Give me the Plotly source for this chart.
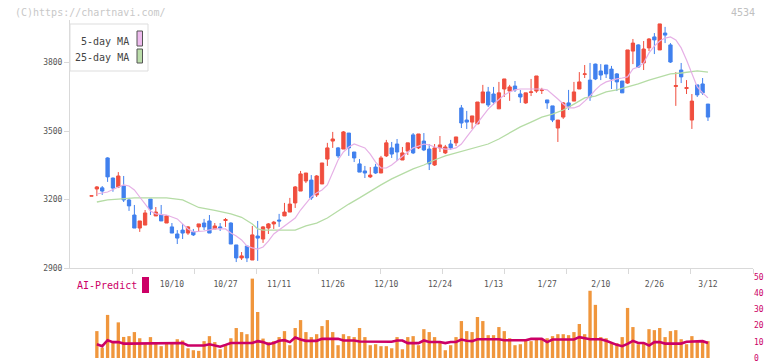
import plotly.graph_objects as go

# ---------------- data ----------------
tick_labels = ["10/10", "10/27", "11/11", "11/26", "12/10", "12/24",
               "1/13", "1/27", "2/10", "2/26", "3/12"]
tick_label_idx = [15, 25, 35, 45, 55, 65, 75, 85, 95, 105, 115]

open_ = [3215, 3246, 3251, 3382, 3294, 3255, 3259, 3198, 3132, 3075,
         3088, 3202, 3128, 3132, 3097, 3080, 3049, 3066, 3053, 3058,
         3080, 3097, 3106, 3071, 3080, 3108, 3097, 3001, 2944, 2996,
         2935, 3040, 3027, 3075, 3093, 3110, 3128, 3145, 3185, 3237,
         3281, 3285, 3220, 3268, 3377, 3456, 3426, 3421, 3491, 3408,
         3356, 3325, 3299, 3342, 3316, 3391, 3426, 3443, 3373, 3412,
         3483, 3426, 3456, 3421, 3351, 3426, 3404, 3443, 3448, 3601,
         3548, 3539, 3531, 3623, 3671, 3662, 3597, 3684, 3675, 3697,
         3662, 3623, 3669, 3675, 3677, 3636, 3610, 3513, 3561, 3623,
         3631, 3684, 3748, 3723, 3793, 3763, 3789, 3771, 3750, 3719,
         3710, 3850, 3877, 3798, 3864, 3912, 3855, 3929, 3877, 3695,
         3767, 3686, 3548, 3702, 3706, 3618]
high = [3216, 3259, 3259, 3385, 3296, 3320, 3303, 3207, 3176, 3106,
        3154, 3202, 3167, 3176, 3132, 3097, 3066, 3093, 3084, 3071,
        3093, 3115, 3132, 3097, 3097, 3119, 3100, 3001, 2970, 2996,
        3084, 3106, 3084, 3097, 3106, 3137, 3185, 3207, 3259, 3325,
        3316, 3307, 3307, 3360, 3448, 3496, 3430, 3500, 3491, 3408,
        3377, 3347, 3342, 3356, 3391, 3461, 3452, 3465, 3430, 3448,
        3491, 3487, 3491, 3443, 3443, 3478, 3439, 3461, 3474, 3614,
        3588, 3566, 3627, 3702, 3693, 3693, 3715, 3728, 3702, 3719,
        3680, 3667, 3728, 3741, 3689, 3636, 3610, 3548, 3627, 3680,
        3715, 3758, 3789, 3798, 3795, 3793, 3789, 3785, 3754, 3719,
        3855, 3903, 3880, 3894, 3907, 3929, 3969, 3956, 3885, 3758,
        3798, 3723, 3662, 3702, 3732, 3618]
low = [3215, 3215, 3220, 3277, 3234, 3250, 3189, 3150, 3075, 3058,
       3088, 3132, 3128, 3106, 3097, 3053, 3005, 3027, 3045, 3040,
       3058, 3066, 3053, 3071, 3062, 3080, 3005, 2926, 2935, 2926,
       2935, 2931, 3010, 3049, 3071, 3080, 3128, 3145, 3163, 3237,
       3272, 3198, 3211, 3268, 3347, 3426, 3382, 3421, 3391, 3364,
       3320, 3294, 3294, 3312, 3316, 3386, 3382, 3369, 3373, 3395,
       3399, 3421, 3412, 3329, 3347, 3408, 3399, 3417, 3434, 3513,
       3509, 3509, 3531, 3623, 3605, 3614, 3597, 3649, 3632, 3671,
       3623, 3619, 3653, 3667, 3662, 3597, 3539, 3452, 3553, 3592,
       3631, 3684, 3732, 3632, 3723, 3723, 3732, 3684, 3675, 3667,
       3706, 3793, 3776, 3767, 3850, 3837, 3855, 3885, 3798, 3610,
       3710, 3662, 3509, 3649, 3658, 3544]
close = [3216, 3255, 3237, 3299, 3250, 3303, 3198, 3172, 3075, 3106,
         3141, 3158, 3145, 3106, 3128, 3053, 3031, 3053, 3080, 3045,
         3093, 3080, 3053, 3084, 3075, 3112, 3005, 2944, 2953, 2944,
         3045, 3031, 3080, 3093, 3101, 3106, 3145, 3180, 3255, 3312,
         3316, 3207, 3303, 3360, 3426, 3465, 3391, 3496, 3426, 3382,
         3320, 3316, 3307, 3316, 3382, 3448, 3399, 3408, 3404, 3448,
         3404, 3487, 3417, 3356, 3426, 3439, 3430, 3426, 3474, 3535,
         3539, 3566, 3627, 3671, 3614, 3627, 3667, 3728, 3693, 3680,
         3649, 3667, 3671, 3741, 3680, 3623, 3548, 3548, 3623, 3605,
         3671, 3715, 3750, 3649, 3728, 3745, 3750, 3728, 3715, 3667,
         3855, 3885, 3780, 3859, 3903, 3899, 3969, 3920, 3802, 3699,
         3737, 3690, 3631, 3658, 3667, 3561]

ma5_idx = [1, 3, 5, 6, 7, 8, 9, 10, 11, 12, 14, 16, 17, 18, 19, 21, 23, 25,
           26, 27, 28, 29, 30, 31, 32, 33, 34, 35, 36, 37, 38, 39, 40, 41,
           42, 43, 44, 45, 46, 47, 48, 49, 50, 51, 52, 53, 54, 55, 56, 57,
           58, 59, 60, 61, 62, 63, 64, 66, 67, 68, 69, 70, 71, 72, 73, 74,
           75, 76, 77, 78, 79, 80, 82, 84, 85, 86, 87, 88, 89, 90, 91, 92,
           93, 94, 95, 96, 97, 98, 99, 100, 101, 102, 103, 104, 105, 106,
           107, 108, 109, 110, 111, 112, 113, 114, 115]
ma5_val = [3224, 3233, 3255, 3264, 3259, 3242, 3211, 3180, 3150, 3137,
           3132, 3115, 3093, 3071, 3058, 3062, 3071, 3071, 3053, 3040,
           3023, 2996, 2988, 2983, 2992, 3018, 3049, 3066, 3084, 3101,
           3119, 3154, 3185, 3211, 3229, 3242, 3264, 3320, 3373, 3408,
           3430, 3443, 3434, 3426, 3399, 3364, 3338, 3338, 3351, 3369,
           3391, 3408, 3426, 3434, 3443, 3439, 3430, 3421, 3421, 3426,
           3443, 3474, 3504, 3531, 3566, 3596, 3618, 3636, 3658, 3671,
           3680, 3684, 3684, 3684, 3680, 3662, 3640, 3618, 3601, 3601,
           3610, 3631, 3653, 3680, 3702, 3715, 3723, 3728, 3732, 3737,
           3772, 3780, 3798, 3842, 3872, 3894, 3907, 3912, 3899, 3864,
           3811, 3750, 3693, 3667, 3645]

ma25_idx = [1, 3, 5, 8, 11, 14, 17, 20, 23, 26, 28, 30, 31, 32, 35, 38, 40,
            42, 44, 46, 48, 50, 52, 54, 56, 58, 60, 62, 64, 66, 68, 70, 72,
            74, 76, 78, 80, 82, 84, 86, 88, 90, 92, 94, 96, 98, 100, 102,
            104, 106, 108, 110, 112, 113, 115]
ma25_val = [3189, 3198, 3202, 3207, 3207, 3207, 3198, 3165, 3152, 3137,
            3122, 3093, 3071, 3066, 3066, 3066, 3084, 3097, 3119, 3150,
            3180, 3207, 3237, 3264, 3290, 3312, 3334, 3351, 3373, 3391,
            3404, 3417, 3430, 3443, 3465, 3491, 3518, 3539, 3561, 3574,
            3592, 3618, 3645, 3653, 3671, 3680, 3693, 3706, 3723, 3737,
            3750, 3754, 3758, 3763, 3758]

volume = [0, 16.6, 6.4, 26.6, 10, 22, 13, 13.5, 16, 12.2,
          8.5, 12.9, 9.8, 7.3, 9.8, 9.8, 11.6, 10.8, 6, 4.8,
          4.4, 10.4, 13.5, 9.8, 5.4, 8.5, 12.2, 18.5, 16, 14.7,
          49, 28.4, 12, 9.8, 10.4, 12.9, 16.6, 7.9, 18.5, 23.4,
          16, 12.9, 14.7, 19.7, 23.4, 16, 7.9, 14.7, 13.5, 12.9,
          18.5, 12.9, 7.9, 8.5, 7.3, 7.3, 6, 12.9, 5.4, 12.9,
          13.5, 7.9, 17.8, 16, 12.9, 9.8, 4.8, 7.9, 12.9, 22.8,
          16.6, 16, 25.3, 22.8, 14.1, 14.1, 19.1, 16.6, 12.2, 7.9,
          8.5, 11.6, 10.4, 12.2, 11.6, 12.2, 13.5, 14.7, 14.7, 14.1,
          16, 21, 14.7, 41.5, 32.8, 12.9, 12.2, 9.1, 9.1, 12.9,
          30.9, 19.1, 8.5, 9.1, 17.8, 17.2, 18.5, 12.9, 16.6, 17.2,
          11.6, 8.5, 13.5, 9.8, 9.8, 10.4]

ai_predict = [None, 8.5, 7.3, 11, 9.8, 9.8, 8.9, 8.9, 8.9, 8.9,
              8.9, 9.3, 9.3, 9.3, 9.3, 9.3, 9.3, 9.3, 7.7, 7.7,
              7.7, 7.7, 8.5, 7.7, 7, 8.1, 9.3, 9.3, 9.3, 9.3,
              9.3, 10.4, 9.8, 8.5, 9.3, 10.6, 11, 9.8, 12.7, 11.4,
              10.6, 10.6, 10.6, 11.8, 11.8, 11.8, 11.8, 10.8, 10.8, 10.8,
              10.2, 10.2, 10.2, 10.2, 10.2, 10.2, 10, 10.8, 10.8, 9.2,
              9.2, 9.2, 10.8, 9.9, 9.9, 9.9, 9.2, 9.9, 9.9, 11.4,
              10.6, 10.4, 11.6, 11.6, 11.6, 11.6, 11.6, 11, 11, 11,
              11, 11, 11.8, 11.8, 11.8, 9.8, 11.4, 11.4, 11.4, 11.4,
              11.4, 12.9, 12.4, 11.6, 11.6, 11.6, 10.6, 9.3, 8.1, 7.3,
              8.7, 10.6, 9.3, 9.3, 7.7, 9.8, 9.8, 8.9, 8.9, 8.9,
              8.9, 10, 10, 10, 10.4, 9.3]

idx = list(range(len(close)))

# ---------------- layout geometry ----------------
# The page body has an 8px default margin (top/left), so the figure is
# offset by 8px; target pixel positions are converted with that offset.
OFF = 8
W, H = 772 - OFF, 361 - OFF
X_LO, X_HI = -4.01, 123.4
MONO = "DejaVu Sans Mono"
RED, BLUE = "#f04e3e", "#4080ee"
CRIMSON = "#cc0066"


def px(x):
    return (x - OFF) / W


def py(y):
    return 1 - (y - OFF) / H


fig = go.Figure()
fig.add_trace(go.Candlestick(
    x=idx, open=open_, high=high, low=low, close=close,
    increasing=dict(line=dict(color=RED, width=1), fillcolor=RED),
    decreasing=dict(line=dict(color=BLUE, width=1), fillcolor=BLUE),
    whiskerwidth=0, xaxis="x", yaxis="y", showlegend=False, hoverinfo="skip"))
fig.add_trace(go.Scatter(x=ma25_idx, y=ma25_val, mode="lines",
                         line=dict(color="#b5dca5", width=1.3),
                         xaxis="x", yaxis="y", showlegend=False))
fig.add_trace(go.Scatter(x=ma5_idx, y=ma5_val, mode="lines",
                         line=dict(color="#e6b0e6", width=1.2),
                         xaxis="x", yaxis="y", showlegend=False))
fig.add_trace(go.Bar(x=idx, y=volume, width=0.62, marker=dict(color="#f0963c", line=dict(width=0)),
                     xaxis="x2", yaxis="y2", showlegend=False))
fig.add_trace(go.Scatter(x=idx, y=ai_predict, mode="lines",
                         line=dict(color=CRIMSON, width=2.6),
                         xaxis="x3", yaxis="y2", showlegend=False))

main_ticks = [X_LO + k * (X_HI - X_LO) / 11 for k in range(1, 12)]
axis_grey = "#d9d9d9"

fig.update_layout(
    width=W, height=H,
    margin=dict(l=0, r=0, t=0, b=0),
    paper_bgcolor="white", plot_bgcolor="white",
    boxgap=0.12,
    bargap=0.3,
    xaxis=dict(domain=[px(70), px(753)], range=[X_LO, X_HI], anchor="y",
               showline=True, linecolor=axis_grey, linewidth=1,
               ticks="outside", ticklen=5, tickcolor=axis_grey,
               tickvals=main_ticks, showticklabels=False,
               showgrid=False, zeroline=False,
               rangeslider=dict(visible=False)),
    yaxis=dict(domain=[py(268), py(20)], range=[2900, 2900 + 248 * 300 / 68.5],
               anchor="x", showline=True, linecolor=axis_grey, linewidth=1,
               ticks="outside", ticklen=5, tickcolor=axis_grey,
               tickvals=[2900, 3200, 3500, 3800],
               tickfont=dict(family=MONO, size=8, color="#555555"),
               showgrid=False, zeroline=False, automargin=False),
    xaxis2=dict(domain=[px(70), px(753)], range=[X_LO, X_HI], anchor="y2",
                showticklabels=False, ticks="", showline=False,
                showgrid=False, zeroline=False),
    # date labels row: an overlaying axis whose labels sit just inside the lower panel
    xaxis3=dict(overlaying="x2", range=[X_LO, X_HI], anchor="free",
                position=py(289), side="top",
                tickvals=tick_label_idx, ticktext=tick_labels,
                tickfont=dict(family=MONO, size=8, color="#555555"),
                ticks="", showline=False, showgrid=False, zeroline=False,
                automargin=False),
    yaxis2=dict(domain=[py(358), py(277)], range=[0, 50], anchor="x2",
                side="right", tickvals=[0, 10, 20, 30, 40, 50],
                tickfont=dict(family=MONO, size=8, color=CRIMSON),
                ticklabeloverflow="allow",
                ticks="", showline=False, showgrid=False, zeroline=False,
                automargin=False),
    font=dict(family=MONO),
)

# legend box (5-day / 25-day MA)
shapes = [
    dict(type="rect", xref="paper", yref="paper", x0=px(70), x1=px(148),
         y0=py(71), y1=py(24), fillcolor="white", line=dict(color="#dddddd", width=1)),
    dict(type="rect", xref="paper", yref="paper", x0=px(137), x1=px(142.5),
         y0=py(46), y1=py(31), fillcolor="#eebbee", line=dict(color="#555555", width=1)),
    dict(type="rect", xref="paper", yref="paper", x0=px(137), x1=px(142.5),
         y0=py(63), y1=py(49), fillcolor="#bbddaa", line=dict(color="#555555", width=1)),
    dict(type="rect", xref="paper", yref="paper", x0=px(142), x1=px(149),
         y0=py(293), y1=py(277), fillcolor=CRIMSON, line=dict(width=0)),
]
annotations = [
    dict(text="5-day MA", x=px(131), y=py(41.5), xref="paper", yref="paper",
         xanchor="right", yanchor="middle", showarrow=False,
         font=dict(family=MONO, size=10, color="#444444")),
    dict(text="25-day MA", x=px(131), y=py(57), xref="paper", yref="paper",
         xanchor="right", yanchor="middle", showarrow=False,
         font=dict(family=MONO, size=10, color="#444444")),
    dict(text="(C)https://chartnavi.com/", x=px(13), y=py(12.5), xref="paper", yref="paper",
         xanchor="left", yanchor="middle", showarrow=False,
         font=dict(family=MONO, size=10, color="#c8c8c8")),
    dict(text="4534", x=px(757), y=py(12.5), xref="paper", yref="paper",
         xanchor="right", yanchor="middle", showarrow=False,
         font=dict(family=MONO, size=10, color="#c0c0c0")),
    dict(text="AI-Predict", x=px(75), y=py(285.5), xref="paper", yref="paper",
         xanchor="left", yanchor="middle", showarrow=False,
         font=dict(family=MONO, size=10, color=CRIMSON)),
]
fig.update_layout(shapes=shapes, annotations=annotations)

fig.write_html("out.html")
